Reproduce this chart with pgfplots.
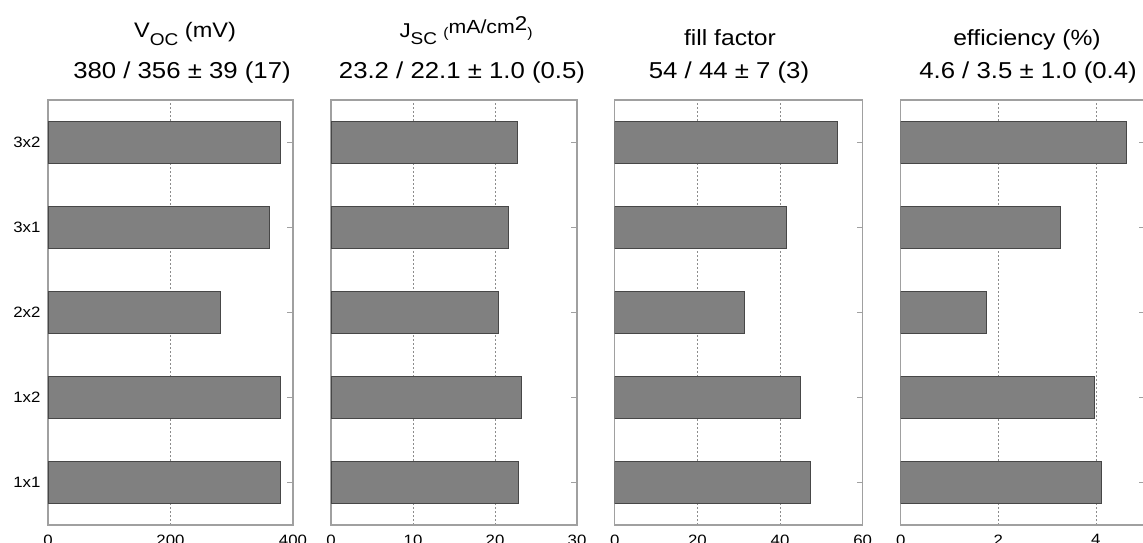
\documentclass[border=0pt]{standalone}
\usepackage{fontspec}
\setmainfont{Liberation Sans}[FakeStretch=1.12]
\usepackage{pgfplots}
\usepackage{pgfplotstable}
\pgfplotsset{compat=1.18}

\pgfplotstableread{
y voc jsc ff eff
1 380 22.9 47.4 4.12
2 380 23.2 44.9 3.98
3 281 20.4 31.5 1.76
4 362 21.6 41.6 3.28
5 380 22.7 54.0 4.62
}\data

\definecolor{barfill}{HTML}{808080}
\definecolor{baredge}{HTML}{474747}
\definecolor{frame}{HTML}{A0A0A0}

\pgfplotsset{
  barax/.style={
    at={(#1pt,-100pt)}, anchor=north west,
    scale only axis, height=425pt,
    xmin=0, ymin=0.5, ymax=5.5,
    ytick={1,2,3,4,5}, yticklabels={},
    ytick pos=right, yticklabel pos=left,
    xtick pos=bottom,
    major tick length=6pt,
    xtick style={draw=none},
    ytick style={frame, line width=1.1pt},
    axis line style={frame, line width=1.5pt},
    xmajorgrids,
    grid style={gray!90, line width=0.8pt, dash pattern=on 2pt off 2pt},
    tick label style={font=\fontsize{15}{17}\selectfont},
    xticklabel style={yshift=-6pt},
    yticklabel style={xshift=-4pt},
    /pgf/number format/assume math mode=true,
  },
  mybar/.style={xbar, bar width=42pt, fill=barfill, draw=baredge, line width=0.9pt},
}

\begin{document}
\begin{tikzpicture}
\path[use as bounding box] (0pt,0pt) rectangle (1143pt,-543pt);

% titles line 1
\node[anchor=base, font=\fontsize{21}{24}\selectfont] at (185pt,-38pt)
  {V\raisebox{-8pt}{\fontsize{17}{17}\selectfont OC} (mV)};
\node[anchor=base, font=\fontsize{20}{24}\selectfont] at (466pt,-38pt)
  {J\raisebox{-6pt}{\fontsize{17}{17}\selectfont SC} {\fontsize{14}{14}\selectfont(}\raisebox{5pt}{\fontsize{19}{19}\selectfont mA/cm\raisebox{2pt}{\fontsize{20}{20}\selectfont 2}}{\fontsize{14}{14}\selectfont)}};
\node[anchor=base, font=\fontsize{22}{24}\selectfont] at (730pt,-46pt) {fill factor};
\node[anchor=base, font=\fontsize{22}{24}\selectfont] at (1027pt,-46pt) {efficiency (\%)};
% titles line 2
\node[anchor=base, font=\fontsize{23}{26}\selectfont] at (182pt,-78pt) {380 / 356 ± 39 (17)};
\node[anchor=base, font=\fontsize{23}{26}\selectfont] at (462pt,-78pt) {23.2 / 22.1 ± 1.0 (0.5)};
\node[anchor=base, font=\fontsize{23}{26}\selectfont] at (729pt,-78pt) {54 / 44 ± 7 (3)};
\node[anchor=base, font=\fontsize{23}{26}\selectfont] at (1028pt,-78pt) {4.6 / 3.5 ± 1.0 (0.4)};

\begin{axis}[barax=48, width=245pt, xmax=400, xtick={0,200,400},
  yticklabels={1x1,1x2,2x2,3x1,3x2}]
\addplot[mybar] table[x=voc, y=y] {\data};
\end{axis}

\begin{axis}[barax=331, width=246pt, xmax=30, xtick={0,10,20,30}]
\addplot[mybar] table[x=jsc, y=y] {\data};
\end{axis}

\begin{axis}[barax=614.7, width=248pt, xmax=60, xtick={0,20,40,60}]
\addplot[mybar] table[x=ff, y=y] {\data};
\end{axis}

\begin{axis}[barax=900.7, width=244pt, xmax=5, xtick={0,2,4}]
\addplot[mybar] table[x=eff, y=y] {\data};
\end{axis}
\end{tikzpicture}
\end{document}
